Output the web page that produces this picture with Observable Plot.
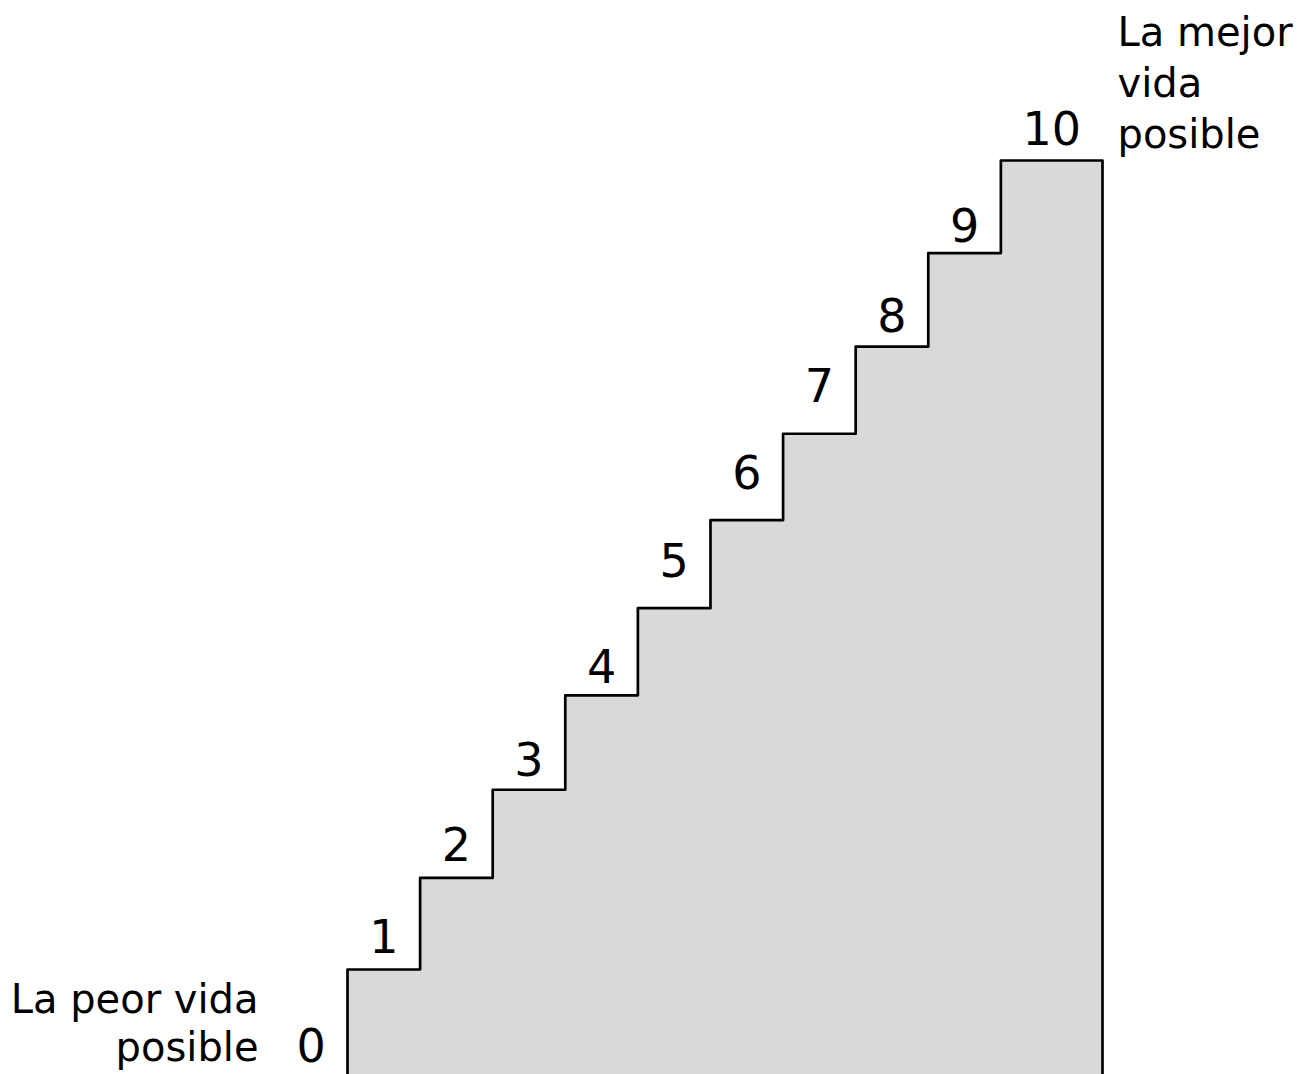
<!DOCTYPE html>
<html><head><meta charset="utf-8">
<script src="https://cdn.jsdelivr.net/npm/d3@7"></script>
<script src="https://cdn.jsdelivr.net/npm/@observablehq/plot@0.6"></script>
<style>html,body{margin:0;padding:0;background:#fff;overflow:hidden}</style>
</head><body><div id="chart"></div>
<script>
// Ladder steps (Cantril ladder)
const steps = [1, 2, 3, 4, 5, 6, 7, 8, 9, 10];
const stepTops = [1.0, 2.02, 3.0, 4.05, 5.02, 6.0, 6.96, 7.93, 8.97, 10.0];
const stepWidths = [1, 1, 1, 1, 1, 1, 1, 1, 1, 1.4];
const ladderLabels = ["0", "1", "2", "3", "4", "5", "6", "7", "8", "9", "10"];
const labelLevels = [-0.03, 1.18, 2.21, 3.15, 4.19, 5.37, 6.35, 7.31, 8.09, 9.09, 10.17];
const worstLabel = "La peor vida\nposible";
const bestLabel = "La mejor\nvida\nposible";
const groundLevel = -0.3;

const starts = [];
let acc = 0;
for (const w of stepWidths) { starts.push(acc); acc += w; }
const end = acc;

const outline = [{x: 0, y: groundLevel}]
  .concat(steps.map((s, i) => ({x: starts[i], y: stepTops[i]})))
  .concat([{x: end, y: stepTops[stepTops.length - 1]}, {x: end, y: groundLevel}]);

const labelData = ladderLabels.map((t, i) => ({
  t,
  x: i === 0 ? -0.5 : starts[i - 1] + stepWidths[i - 1] / 2,
  y: labelLevels[i]
}));

const chart = Plot.plot({
  width: 1299,
  height: 1074,
  margin: 0,
  x: {domain: [0, end], range: [347, 1102], axis: null},
  y: {domain: [0, 10], range: [1058.9, 160], axis: null},
  style: {fontFamily: "'DejaVu Sans', Verdana, sans-serif", background: "white", color: "black"},
  marks: [
    Plot.areaY(outline, {x: "x", y1: groundLevel, y2: "y", curve: "step-after", fill: "#d9d9d9"}),
    Plot.line(outline, {x: "x", y: "y", curve: "step-after", stroke: "black", strokeWidth: 2.7}),
    Plot.text(labelData, {x: "x", y: "y", text: "t", fontSize: 46, lineAnchor: "bottom", fill: "black"}),
    Plot.text([bestLabel], {x: () => end, y: () => 10, text: d => d, dx: 15, dy: -13, textAnchor: "start", lineAnchor: "bottom", fontSize: 40, lineHeight: 1.275, fill: "black"}),
    Plot.text([worstLabel], {x: () => 0, y: () => 0, text: d => d, dx: -89, dy: 2, textAnchor: "end", lineAnchor: "bottom", fontSize: 40, lineHeight: 1.22, fill: "black"})
  ]
});
document.getElementById("chart").appendChild(chart);
</script>
</body></html>
